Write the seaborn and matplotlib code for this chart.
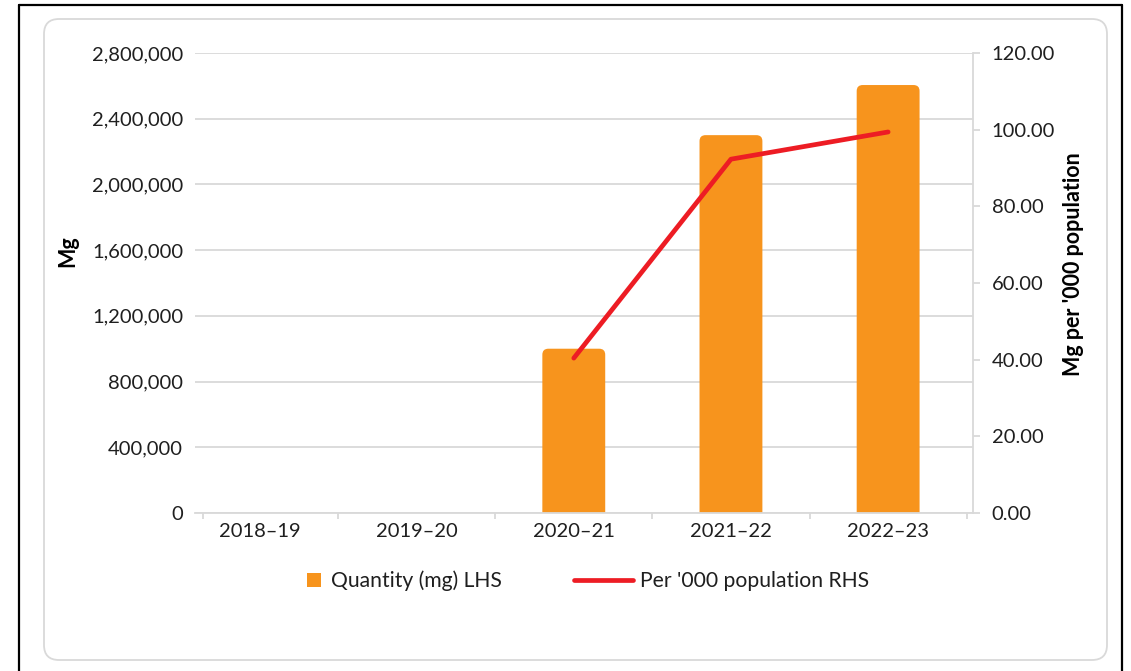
import numpy as np
import pandas as pd
import matplotlib
matplotlib.use("Agg")
import matplotlib.pyplot as plt
import seaborn as sns
from matplotlib.patches import FancyBboxPatch, Patch
from matplotlib.lines import Line2D
from matplotlib.ticker import FuncFormatter, FixedLocator

# ---------------- data ----------------
categories = ["2018–19", "2019–20", "2020–21", "2021–22", "2022–23"]
quantity_mg = [np.nan, np.nan, 1000000, 2300000, 2605000]
per_000_population = [np.nan, np.nan, 40.4, 92.3, 99.4]
left_ticks = [0, 400000, 800000, 1200000, 1600000, 2000000, 2400000, 2800000]
right_ticks = [0, 20, 40, 60, 80, 100, 120]
bar_label = "Quantity (mg) LHS"
line_label = "Per '000 population RHS"
left_title = "Mg"
right_title = "Mg per '000 population"

# ---------------- style ----------------
ORANGE = "#F7941D"
RED = "#ED1C24"
GRID = "#d9d9d9"
TXT = "#1f1f1f"
FS = 14.5
LFS = 15.2
TFS = 15.5

sns.set_theme(style="white")
plt.rcParams['font.family'] = ['Lato', 'DejaVu Sans']

W, H = 1131, 671
fig = plt.figure(figsize=(W / 100, H / 100), dpi=100)
fig.patch.set_facecolor("white")

ax_l, ax_r, ax_t, ax_b = 195, 973, 53, 513
ax = fig.add_axes([ax_l / W, 1 - ax_b / H, (ax_r - ax_l) / W, (ax_b - ax_t) / H])

df = pd.DataFrame({"Year": categories, "Quantity": quantity_mg})
sns.barplot(data=df, x="Year", y="Quantity", order=categories, color=ORANGE,
            saturation=1, width=0.4, errorbar=None, ax=ax, edgecolor="none")

xlim = (-0.41, 4.54)
ylim = (0, left_ticks[-1])
ax.set_xlim(*xlim)
ax.set_ylim(*ylim)

# rounded bar tops
px_per_x = (ax_r - ax_l) / (xlim[1] - xlim[0])
px_per_y = (ax_b - ax_t) / (ylim[1] - ylim[0])
r_px = 6
rx = r_px / px_per_x
ry = r_px / px_per_y
for p in list(ax.patches):
    x, y, w, h = p.get_x(), p.get_y(), p.get_width(), p.get_height()
    p.remove()
    if not np.isfinite(h) or h <= 0:
        continue
    nb = FancyBboxPatch((x, y - ry), w, h + ry,
                        boxstyle=f"round,pad=0,rounding_size={rx}",
                        mutation_aspect=ry / rx, fc=ORANGE, ec="none", zorder=2)
    ax.add_patch(nb)

ax.yaxis.set_major_locator(FixedLocator(left_ticks))
ax.yaxis.set_major_formatter(FuncFormatter(lambda v, _: f"{v:,.0f}"))
ax.yaxis.grid(True, color=GRID, lw=1.3)
ax.set_axisbelow(True)
for s in ["left", "right", "top"]:
    ax.spines[s].set_visible(False)
ax.spines["bottom"].set_color(GRID)
ax.spines["bottom"].set_linewidth(1.3)
ax.tick_params(axis="y", length=0, pad=8.5, labelsize=FS, labelcolor=TXT)
ax.tick_params(axis="x", which="major", length=0, pad=7, labelsize=FS, labelcolor=TXT)
ax.set_xticks([-0.36, 0.5, 1.5, 2.5, 3.5, 4.5], minor=True)
ax.tick_params(axis="x", which="minor", length=4, width=1.3, color=GRID, direction="out", bottom=True)
ax.set_xlabel("")
ax.set_ylabel(left_title, fontsize=TFS, fontweight="bold", color="black")
ax.yaxis.set_label_coords((78 - ax_l) / (ax_r - ax_l), (ax_b - 251) / (ax_b - ax_t))

# secondary axis with line
ax2 = ax.twinx()
pos = np.arange(len(categories))
sns.lineplot(x=pos, y=per_000_population, ax=ax2, color=RED, lw=3.4,
             solid_capstyle="round")
ax2.set_ylim(right_ticks[0], right_ticks[-1])
ax2.set_xlim(*xlim)
ax2.yaxis.set_major_locator(FixedLocator(right_ticks))
ax2.yaxis.set_major_formatter(FuncFormatter(lambda v, _: f"{v:.2f}"))
ax2.grid(False)
for s in ["left", "top", "bottom"]:
    ax2.spines[s].set_visible(False)
ax2.spines["right"].set_color(GRID)
ax2.spines["right"].set_linewidth(1.3)
ax2.tick_params(axis="y", right=True, length=5, width=1.3, color=GRID, pad=8.5,
                labelsize=FS, labelcolor=TXT, direction="out")
ax2.set_ylabel(right_title, fontsize=TFS, fontweight="bold", color="black")
ax2.yaxis.set_label_coords((1063 - ax_l) / (ax_r - ax_l), (ax_b - 264) / (ax_b - ax_t))

# legends
leg_y = 1 - 581 / H
em = LFS * 100 / 72
leg1 = fig.legend(handles=[Patch(fc=ORANGE, ec="none", label=bar_label)],
                  loc="center left", bbox_to_anchor=(307 / W, leg_y),
                  frameon=False, handlelength=14 / em, handleheight=14 / em,
                  handletextpad=10 / em, borderpad=0, borderaxespad=0,
                  fontsize=LFS, labelcolor=TXT)
leg2 = fig.legend(handles=[Line2D([], [], color=RED, lw=3.4, solid_capstyle="round",
                                  label=line_label)],
                  loc="center left", bbox_to_anchor=(574 / W, leg_y),
                  frameon=False, handlelength=59 / em, handletextpad=7 / em,
                  borderpad=0, borderaxespad=0, fontsize=LFS, labelcolor=TXT)

# frame decorations
box = FancyBboxPatch((44 / W, 11 / H), 1063 / W, 641 / H,
                     boxstyle=f"round,pad=0,rounding_size={15 / W}",
                     mutation_aspect=W / H, fc="none", ec=GRID, lw=1.3,
                     transform=fig.transFigure, zorder=0)
fig.add_artist(box)
for xs, ys in [([19 / W, 19 / W], [0, 1 - 5 / H]),
               ([19 / W, 1122 / W], [1 - 5 / H, 1 - 5 / H]),
               ([1122 / W, 1122 / W], [1 - 5 / H, 0])]:
    fig.add_artist(Line2D(xs, ys, color="black", lw=1.6, transform=fig.transFigure))

fig.savefig("out.png", dpi=100)
